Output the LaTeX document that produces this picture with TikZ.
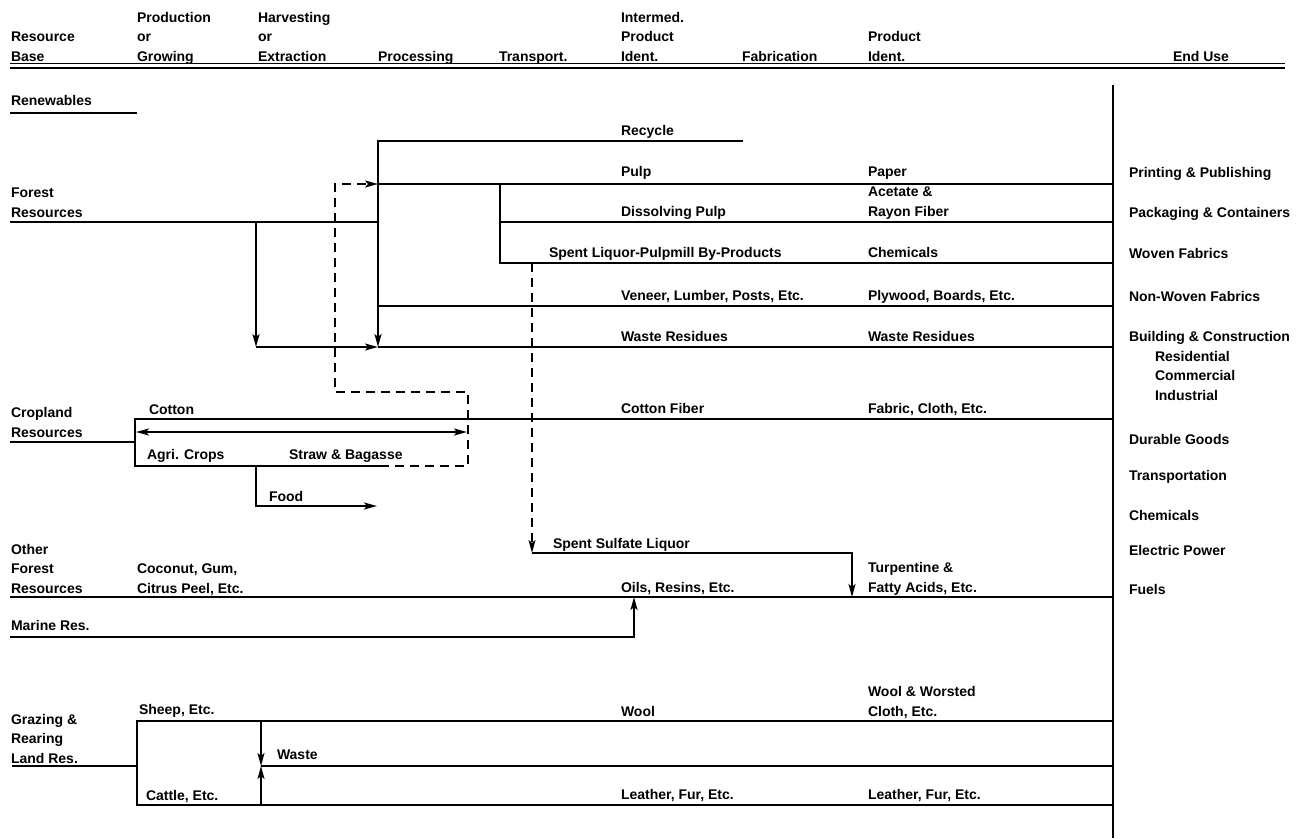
\documentclass[tikz,border=0pt]{standalone}
\usepackage{fontspec}
\setmainfont{Liberation Sans}
\usetikzlibrary{arrows.meta}

\begin{document}
\begin{tikzpicture}[x=1pt,y=-1pt,>={Stealth[length=13pt,width=7pt,inset=3pt]},line width=2pt,
    font=\fontsize{14}{19.5}\selectfont\bfseries]
  \tikzset{lbl/.style={anchor=base west, inner sep=0pt, align=left},
    link/.style={dash pattern=on 9pt off 6pt}}
  \useasboundingbox (0,0) rectangle (1300,838);
  \node[lbl] (hres) at (10,61) {Resource\\Base};
  \node[lbl] (hprod) at (136,61) {Production\\or\\Growing};
  \node[lbl] (hharv) at (257,61) {Harvesting\\or\\Extraction};
  \node[lbl] (hproc) at (377,61) {Processing};
  \node[lbl] (htrans) at (498,61) {Transport.};
  \node[lbl] (hint) at (620,61) {Intermed.\\Product\\Ident.};
  \node[lbl] (hfab) at (741,61) {Fabrication};
  \node[lbl] (hpid) at (867,61) {Product\\Ident.};
  \node[lbl] (hend) at (1172,61) {End Use};
  \coordinate (headL) at (10,68);
  \coordinate (headR) at (1285,68);
  \draw[line width=1.5pt] (headL) -- (headR) ([yshift=4.5pt]headL) -- ([yshift=4.5pt]headR);
  \node[lbl] (renew) at (10,105) {Renewables};
  \coordinate (renU) at (137,113);
  \draw[line width=1.5pt] (renU -| renew.west) -- (renU);
  \coordinate (endT) at (1113,85);
  \coordinate (endB) at (1113,838);
  \draw (endT) -- (endB);

  \coordinate (forL) at (10,222);
  \coordinate (forJ) at (256,222);
  \coordinate (wasL) at (256,347);
  \coordinate (recT) at (378,141);
  \coordinate (recR) at (743,141);
  \coordinate (procP) at (378,184);
  \coordinate (procF) at (378,222);
  \coordinate (procV) at (378,306);
  \coordinate (procW) at (378,347);
  \coordinate (pulpJ) at (500,184);
  \coordinate (dissL) at (500,222);
  \coordinate (liqL) at (500,263);
  \coordinate (liqJ) at (532,263);
  \draw (forL) -- (procF);
  \draw[->] (forJ) -- (wasL);
  \draw[->] (wasL) -- (procW);
  \draw (procW) -- (procW -| endT);
  \draw[->] (recR) -- (recT) -- (procW);
  \draw (procP) -- (procP -| endT);
  \draw (pulpJ) -- (liqL) -- (liqL -| endT);
  \draw (dissL) -- (dissL -| endT);
  \draw (procV) -- (procV -| endT);

  \coordinate (cropL) at (10,442);
  \coordinate (cropJ) at (135,442);
  \coordinate (cotL) at (135,419);
  \coordinate (agrL) at (135,466);
  \coordinate (agrR) at (380,466);
  \coordinate (strR) at (468,466);
  \coordinate (strT) at (468,392);
  \coordinate (strL) at (335,392);
  \coordinate (strP) at (335,184);
  \coordinate (dblL) at (136,432);
  \coordinate (dblR) at (467,432);
  \coordinate (foodT) at (256,466);
  \coordinate (foodB) at (256,506);
  \coordinate (foodR) at (377,506);
  \draw (cropL) -- (cropJ);
  \draw (cotL -| endT) -- (cotL) -- (agrL) -- (agrR);
  \draw[<->] (dblL) -- (dblR);
  \draw[link,->] (agrR) -- (strR) -- (strT) -- (strL) -- (strP) -- (procP);
  \draw[->] (foodT) -- (foodB) -- (foodR);

  \coordinate (sulT) at (532,553);
  \coordinate (sulR) at (852,553);
  \coordinate (oilL) at (10,597);
  \coordinate (oilJ) at (852,597);
  \coordinate (marL) at (10,637);
  \coordinate (marR) at (634,637);
  \coordinate (marJ) at (634,597);
  \draw[link,->] (liqJ) -- (sulT);
  \draw[->] (sulT) -- (sulR) -- (oilJ);
  \draw (oilL) -- (oilL -| endT);
  \draw[->] (marL) -- (marR) -- (marJ);

  \coordinate (grzL) at (12,766);
  \coordinate (grzJ) at (137,766);
  \coordinate (shpL) at (137,721);
  \coordinate (catL) at (137,805);
  \coordinate (wstT) at (261,721);
  \coordinate (wstM) at (261,766);
  \coordinate (wstB) at (261,805);
  \draw (grzL) -- (grzJ);
  \draw (shpL -| endT) -- (shpL) -- (catL) -- (catL -| endT);
  \draw (wstM) -- (wstM -| endT);
  \draw[->] (wstT) -- (wstM);
  \draw[->] (wstB) -- (wstM);

  \node[lbl] (recy) at (620,135) {Recycle};
  \node[lbl] (pulp) at (620,176) {Pulp};
  \node[lbl] (paper) at (867,176) {Paper};
  \node[lbl] (print) at (1128,177) {Printing \& Publishing};
  \node[lbl] (forest) at (10,217) {Forest\\Resources};
  \node[lbl] (disp) at (620,216) {Dissolving Pulp};
  \node[lbl] (acet) at (867,216) {Acetate \&\\Rayon Fiber};
  \node[lbl] (pack) at (1128,217) {Packaging \& Containers};
  \node[lbl] (liq) at (548,257) {Spent Liquor-Pulpmill By-Products};
  \node[lbl] (chem) at (867,257) {Chemicals};
  \node[lbl] (woven) at (1128,258) {Woven Fabrics};
  \node[lbl] (ven) at (620,300) {Veneer, Lumber, Posts, Etc.};
  \node[lbl] (ply) at (867,300) {Plywood, Boards, Etc.};
  \node[lbl] (nonw) at (1128,301) {Non-Woven Fabrics};
  \node[lbl] (wres) at (620,341) {Waste Residues};
  \node[lbl] (wres2) at (867,341) {Waste Residues};
  \node[lbl] (build) at (1128,341) {Building \& Construction};
  \node[lbl] (bsub) at (1154,400) {Residential\\Commercial\\Industrial};
  \node[lbl] (crop) at (10,437) {Cropland\\Resources};
  \node[lbl] (cotton) at (148,414) {Cotton};
  \node[lbl] (cotf) at (620,413) {Cotton Fiber};
  \node[lbl] (fabr) at (867,413) {Fabric, Cloth, Etc.};
  \node[lbl] (agri) at (146,459) {Agri. Crops};
  \node[lbl] (straw) at (288,459) {Straw \& Bagasse};
  \node[lbl] (food) at (268,501) {Food};
  \node[lbl] (dur) at (1128,444) {Durable Goods};
  \node[lbl] (transp) at (1128,480) {Transportation};
  \node[lbl] (chem2) at (1128,520) {Chemicals};
  \node[lbl] (elec) at (1128,555) {Electric Power};
  \node[lbl] (fuel) at (1128,594) {Fuels};
  \node[lbl] (sul) at (552,548) {Spent Sulfate Liquor};
  \node[lbl] (other) at (10,593) {Other\\Forest\\Resources};
  \node[lbl] (coco) at (136,593) {Coconut, Gum,\\Citrus Peel, Etc.};
  \node[lbl] (oils) at (620,592) {Oils, Resins, Etc.};
  \node[lbl] (turp) at (867,592) {Turpentine \&\\Fatty Acids, Etc.};
  \node[lbl] (marine) at (10,630) {Marine Res.};
  \node[lbl] (graz) at (10,763) {Grazing \&\\Rearing\\Land Res.};
  \node[lbl] (sheep) at (138,714) {Sheep, Etc.};
  \node[lbl] (wool) at (620,716) {Wool};
  \node[lbl] (worst) at (867,716) {Wool \& Worsted\\Cloth, Etc.};
  \node[lbl] (waste) at (276,759) {Waste};
  \node[lbl] (cattle) at (145,800) {Cattle, Etc.};
  \node[lbl] (leath) at (620,799) {Leather, Fur, Etc.};
  \node[lbl] (leath2) at (867,799) {Leather, Fur, Etc.};
\end{tikzpicture}
\end{document}
